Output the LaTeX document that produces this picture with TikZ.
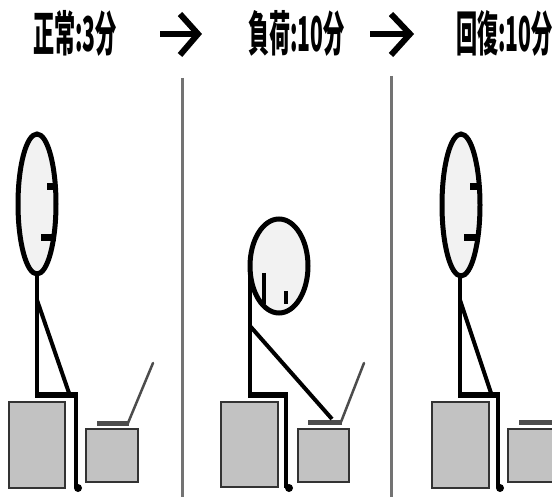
\documentclass[tikz,border=0pt]{standalone}
\usepackage{fontspec}
\usepackage{graphicx}
\newfontfamily\jpfont{Noto Sans CJK JP}
% horizontally condensed heading text
\newcommand\narrowtitle[1]{\scalebox{0.44}[1]{\jpfont\bfseries\fontsize{48}{48}\selectfont #1}}
\begin{document}
\begin{tikzpicture}[x=1pt,y=-1pt,
  title/.style={anchor=west,inner sep=0pt},
  steparrow/.style={line width=6pt,line cap=butt,line join=miter},
  divider/.style={draw=black!55,line width=3pt},
  headline/.style={draw=black,line width=5pt,fill=black!5},
  limb/.style={draw=black,line width=4pt},
  thigh/.style={draw=black,line width=6pt},
  facemark/.style={draw=black,line width=7pt},
  block/.style={draw=black!80,line width=1.6pt,fill=black!24},
  keyboard/.style={draw=black!70,line width=5pt},
  screen/.style={draw=black!70,line width=2.5pt,line cap=round}]
\useasboundingbox[fill=white] (0,0) rectangle (552,497);

% phase titles
\node[title] (t1) at (33,33) {\narrowtitle{正常:3分}};
\node[title] (t2) at (248,33) {\narrowtitle{負荷:10分}};
\node[title] (t3) at (456,33) {\narrowtitle{回復:10分}};

% arrows between titles
\coordinate (a1s) at (160,34); \coordinate (a1e) at (198,34);
\coordinate (a2s) at (370,34); \coordinate (a2e) at (410,34);
\draw[steparrow] (a1s) -- (a1e);
\draw[steparrow] (180,14) -- (a1e) -- (180,55);
\draw[steparrow] (a2s) -- (a2e);
\draw[steparrow] (391,14) -- (a2e) -- (391,55);

% panel separators
\draw[divider] (182,78) -- (182,497);
\draw[divider] (391,76) -- (391,497);

% ---------- panel 1: upright ----------
\draw[block] (9,402) rectangle (65,488);
\draw[block] (86,429) rectangle (138,482);
\draw[screen] (128,423) -- (153,363);
\draw[keyboard] (97,423) -- (129,423);
\draw[limb] (37,272) -- (37,397);
\draw[limb] (37,300) -- (69,393);
\draw[thigh] (35,395) -- (78,395);
\draw[limb] (76,392) -- (76,488);
\fill (78,488) circle (4);
\draw[headline] (37,204) ellipse [x radius=19, y radius=70];
\draw[facemark] (47,187) -- (56,187);
\draw[facemark] (41,238) -- (56,238);

% ---------- panel 2: leaning forward ----------
\draw[block] (221,402) rectangle (278,487);
\draw[block] (298,429) rectangle (349,482);
\draw[screen] (341,422) -- (364,363);
\draw[keyboard] (308,422) -- (342,422);
\draw[limb] (250,262) -- (250,397);
\draw[limb] (250,326) -- (332,419);
\draw[thigh] (248,395) -- (288,395);
\draw[limb] (286,392) -- (286,488);
\fill (289,488) circle (4);
\draw[headline] (279,266) ellipse [x radius=29, y radius=47];
\draw[limb] (264,273) -- (264,304);
\draw[limb] (286,291) -- (286,304);

% ---------- panel 3: recovered ----------
\draw[block] (432,402) rectangle (489,488);
\draw[block] (508,429) rectangle (560,482);
\draw[keyboard] (519,422) -- (560,422);
\draw[limb] (460,274) -- (460,397);
\draw[limb] (460,300) -- (491,393);
\draw[thigh] (458,395) -- (500,395);
\draw[limb] (498,392) -- (498,488);
\fill (500,488) circle (4);
\draw[headline] (461,205) ellipse [x radius=19, y radius=71];
\draw[facemark] (470,187) -- (479,187);
\draw[facemark] (464,238) -- (479,238);
\end{tikzpicture}
\end{document}
